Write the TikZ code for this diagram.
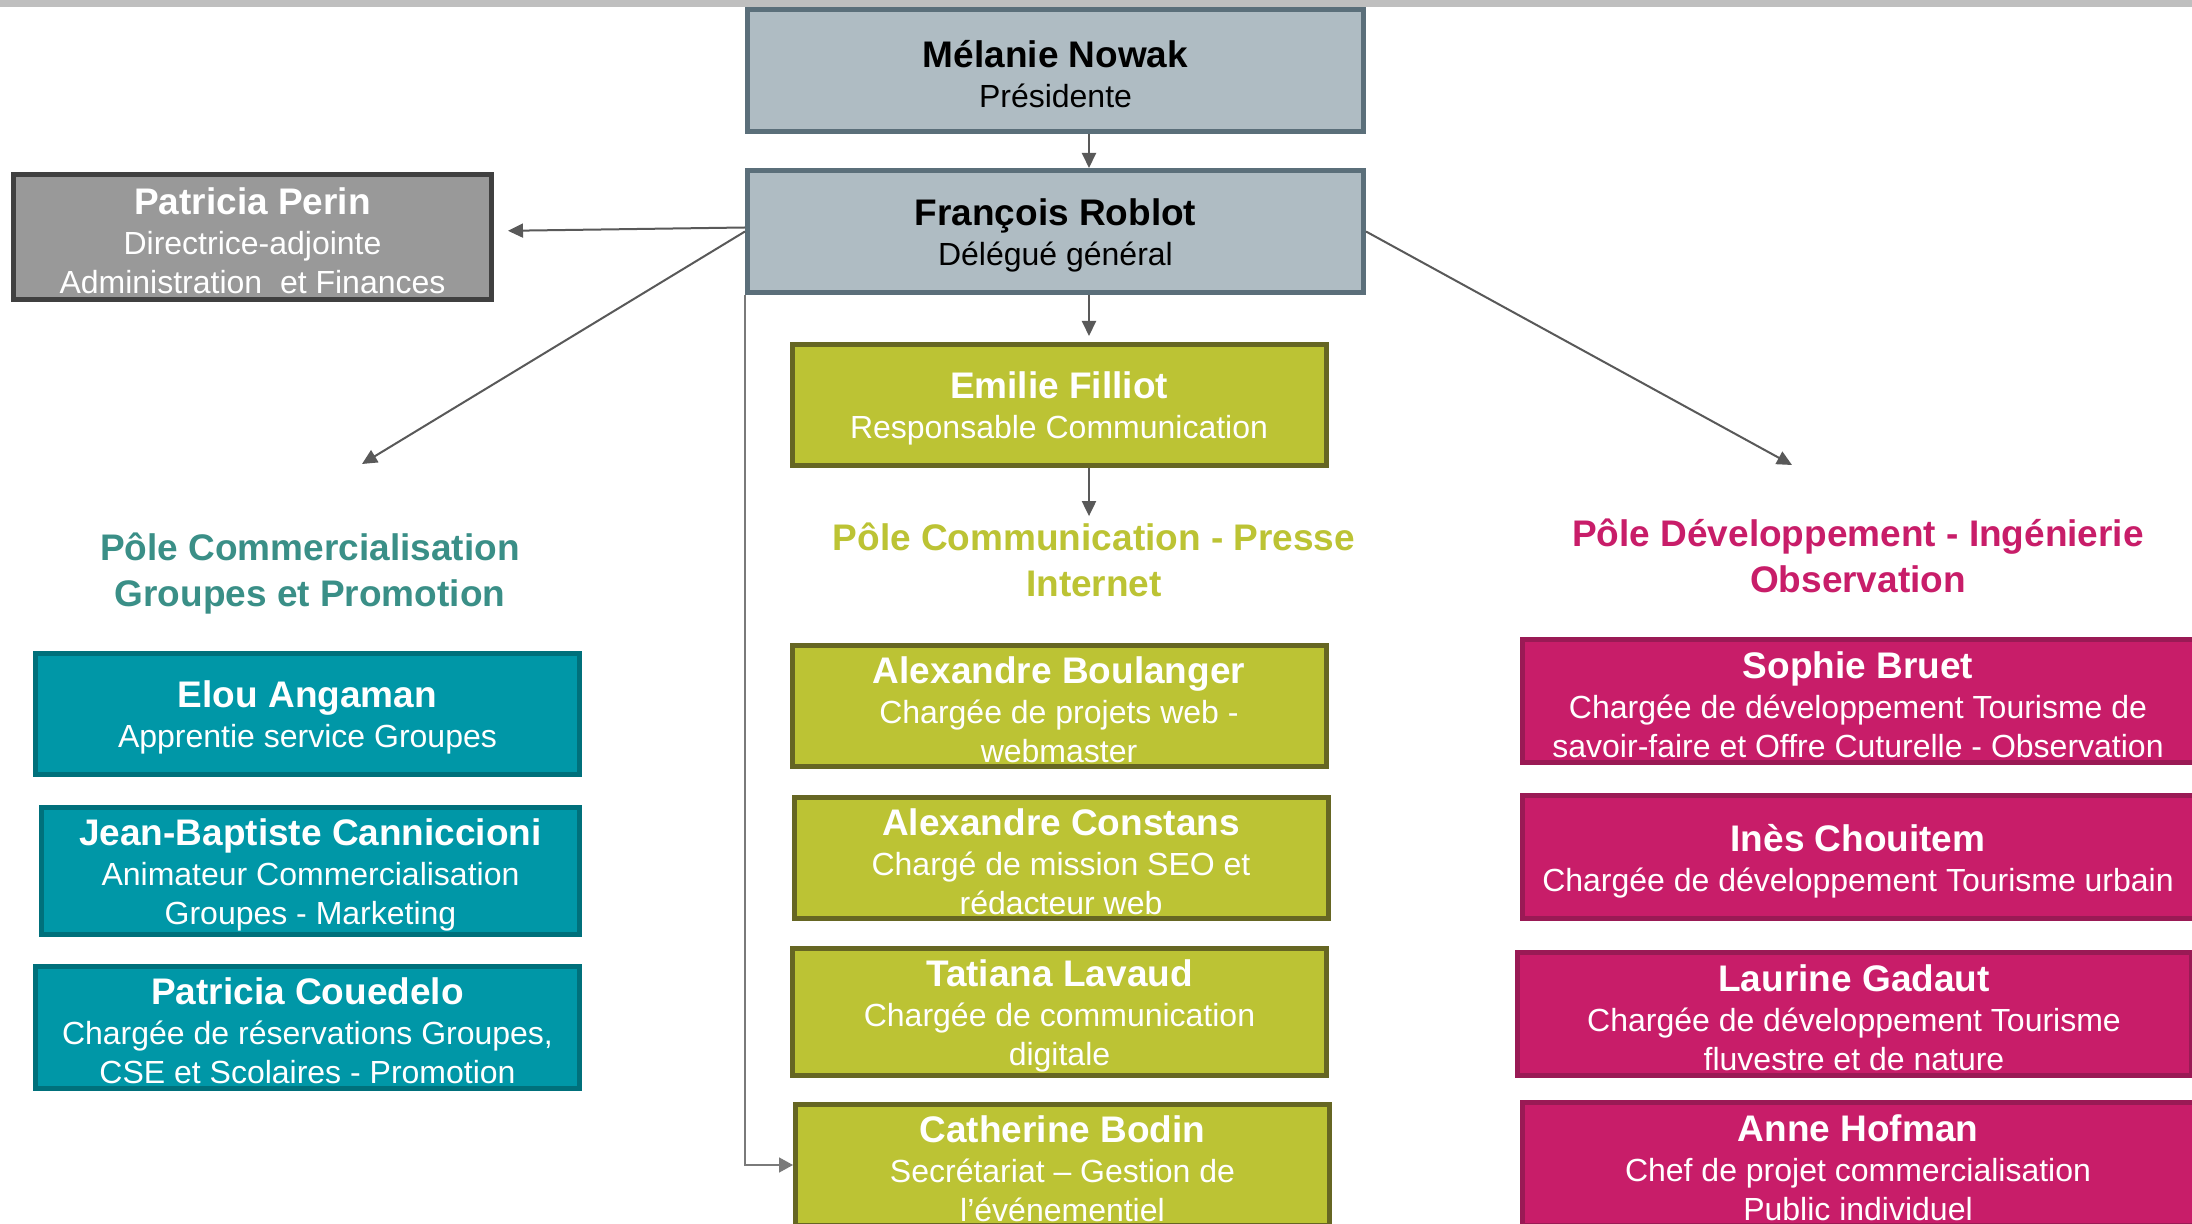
\documentclass[tikz,border=0pt]{standalone}
\usepackage{fontspec}
\setmainfont{Liberation Sans}
\usepackage{xcolor}
\usetikzlibrary{arrows.meta, positioning}
\definecolor{slateFill}{HTML}{AFBCC3}
\definecolor{slateLine}{HTML}{5B6F7A}
\definecolor{greyFill}{HTML}{999999}
\definecolor{greyLine}{HTML}{404040}
\definecolor{oliveFill}{HTML}{BCC334}
\definecolor{oliveLine}{HTML}{666623}
\definecolor{tealFill}{HTML}{0097A7}
\definecolor{tealLine}{HTML}{00707B}
\definecolor{pinkFill}{HTML}{C81D69}
\definecolor{pinkLine}{HTML}{9A1A55}
\definecolor{tealText}{HTML}{3A8F87}
\definecolor{arrowGrey}{HTML}{595959}
\definecolor{barGrey}{HTML}{BFBFBF}
\newcommand{\pname}[1]{{\fontsize{18.5}{21}\selectfont\bfseries\rule{0pt}{17pt}#1}}

\begin{document}
\begin{tikzpicture}[x=0.5pt, y=-0.5pt,
    pbox/.style={rectangle, line width=2.5pt, align=center, inner sep=2pt,
      font=\fontsize{16}{19.5}\selectfont, text=white},
    topbox/.style={pbox, draw=slateLine, fill=slateFill, text=black, minimum width=308pt, minimum height=61pt},
    greybox/.style={pbox, draw=greyLine, fill=greyFill, minimum width=239pt, minimum height=62.5pt},
    olivebox/.style={pbox, draw=oliveLine, fill=oliveFill, minimum width=267pt, minimum height=60.5pt},
    tealbox/.style={pbox, draw=tealLine, fill=tealFill, minimum width=272pt, minimum height=60.5pt},
    pinkbox/.style={pbox, draw=pinkLine, fill=pinkFill, minimum width=336pt, minimum height=61.5pt},
    pole/.style={align=center, inner sep=0pt, font=\fontsize{18.5}{23}\selectfont\bfseries},
    link/.style={draw=arrowGrey, line width=1pt, -{Triangle[length=7.5pt, width=7pt]}},
    feed/.style={draw=arrowGrey!80, line width=0.75pt, -{Triangle[length=7pt, width=7.5pt]}}
  ]
  \useasboundingbox (0,0) rectangle (2192,1224);
  \clip (0,0) rectangle (2192,1224);
  \fill[white] (0,0) rectangle (2192,1224);
  \fill[barGrey] (0,0) rectangle (2192,7);

  % direction
  \node[topbox] (melanie) at (1055.5,70.5) {\pname{Mélanie Nowak}\\[0.5pt] Présidente};
  \node[topbox] (francois) at (1055.5,231.5) {\pname{François Roblot}\\[0.5pt] Délégué général};
  \node[greybox] (perin) at (252.5,237) {\pname{Patricia Perin}\\[0.5pt] Directrice-adjointe\\ Administration\ \ et Finances};
  \coordinate (spine) at (1089,0);

  % pole headings
  \node[pole, text=tealText] (polecom) at (310,574) {Pôle Commercialisation\\ Groupes et Promotion};
  \node[pole, text=oliveFill] (polepresse) at (1094,559.5) {Pôle Communication - Presse\\ Internet};
  \node[pole, text=pinkFill] (poledev) at (1858,556) {Pôle Développement - Ingénierie\\ Observation};
  \coordinate (comtip) at (362,464);
  \coordinate (devtip) at (1792,465);

  % communication
  \node[olivebox] (emilie) at (1059,405) {\pname{Emilie Filliot}\\[0.5pt] Responsable Communication};
  \node[olivebox] (boulanger) at (1059,706) {\pname{Alexandre Boulanger}\\[0.5pt] Chargée de projets web -\\ webmaster};
  \node[olivebox] (constans) at (1061,858) {\pname{Alexandre Constans}\\[0.5pt] Chargé de mission SEO et\\ rédacteur web};
  \node[olivebox] (lavaud) at (1059.5,1012) {\pname{Tatiana Lavaud}\\[0.5pt] Chargée de communication\\ digitale};
  \node[olivebox] (bodin) at (1062.5,1165) {\pname{Catherine Bodin}\\[0.5pt] Secrétariat – Gestion de\\ l’événementiel};

  % commercialisation
  \node[tealbox] (elou) at (307.5,714) {\pname{Elou Angaman}\\[0.5pt] Apprentie service Groupes};
  \node[tealbox, minimum width=269pt] (cannic) at (310.5,871) {\pname{Jean-Baptiste Canniccioni}\\[0.5pt] Animateur Commercialisation\\ Groupes - Marketing};
  \node[tealbox] (couedelo) at (307.5,1027.5) {\pname{Patricia Couedelo}\\[0.5pt] Chargée de réservations Groupes,\\ CSE et Scolaires - Promotion};

  % developpement
  \node[pinkbox] (sophie) at (1858,701.5) {\pname{Sophie Bruet}\\[0.5pt] Chargée de développement Tourisme de\\ savoir-faire et Offre Cuturelle - Observation};
  \node[pinkbox] (ines) at (1858,857.5) {\pname{Inès Chouitem}\\[0.5pt] Chargée de développement Tourisme urbain};
  \node[pinkbox, minimum width=337pt] (gadaut) at (1854,1014) {\pname{Laurine Gadaut}\\[0.5pt] Chargée de développement Tourisme\\ fluvestre et de nature};
  \node[pinkbox] (hofman) at (1858,1164) {\pname{Anne Hofman}\\[0.5pt] Chef de projet commercialisation\\ Public individuel};

  % links
  \draw[link] (melanie.south -| spine) -- (francois.north -| spine);
  \draw[link, shorten >=3pt] (francois.south -| spine) -- (emilie.north -| spine);
  \draw[link] (emilie.south -| spine) -- ([yshift=3pt]polepresse.north -| spine);
  \draw[link, shorten >=7pt] ([yshift=2pt]francois.west) -- ([yshift=3pt]perin.east);
  \draw[link] (francois.west) -- (comtip);
  \draw[link] (francois.east) -- (devtip);
  \draw[feed] (francois.south west) |- (bodin.west);
\end{tikzpicture}
\end{document}
